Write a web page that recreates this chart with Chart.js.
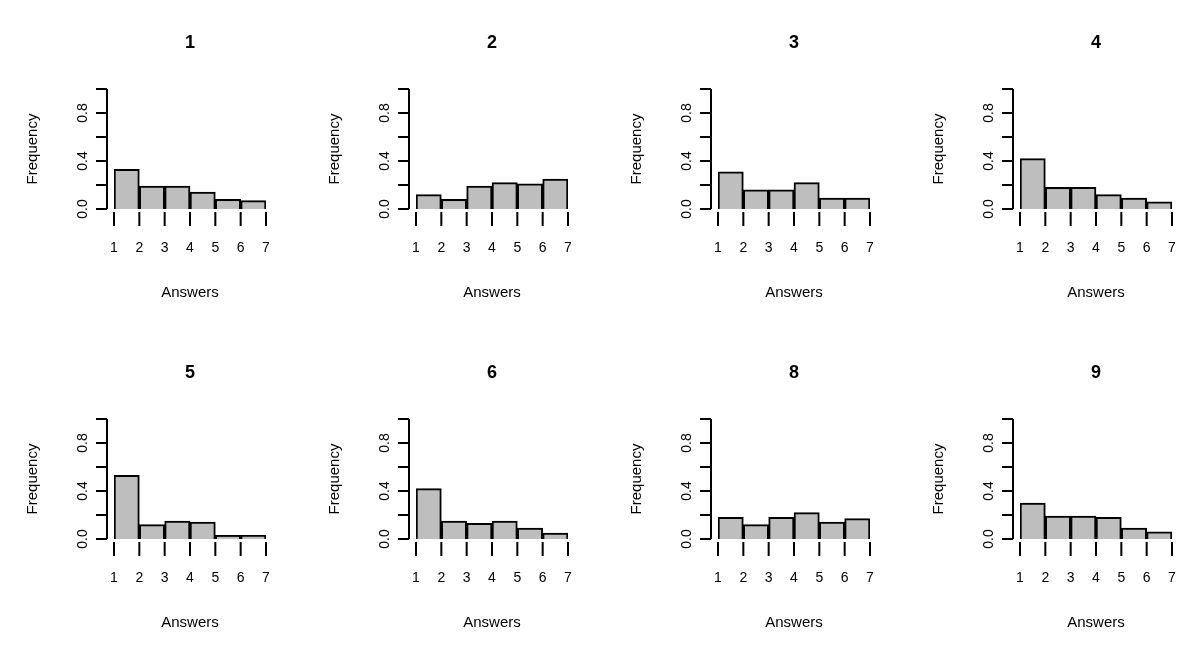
<!DOCTYPE html>
<html>
<head>
<meta charset="utf-8">
<script src="https://cdn.jsdelivr.net/npm/chart.js@4"></script>
<style>
body { margin: 0; background: #fff; }
#wrap { position: relative; width: 1200px; height: 662px; }
.panel { position: absolute; width: 302px; height: 331px; }
</style>
</head>
<body>
<div id="wrap"></div>
<script>
// Titulos de cada histograma y frecuencias relativas (6 clases entre 1 y 7)
const titulos = ['1', '2', '3', '4', '5', '6', '8', '9'];
const centros = [1.5, 2.5, 3.5, 4.5, 5.5, 6.5];
const frecuencias = [
    [0.33, 0.19, 0.19, 0.14, 0.08, 0.07],
    [0.12, 0.08, 0.19, 0.22, 0.21, 0.25],
    [0.31, 0.16, 0.16, 0.22, 0.09, 0.09],
    [0.42, 0.18, 0.18, 0.12, 0.09, 0.06],
    [0.53, 0.12, 0.15, 0.14, 0.03, 0.03],
    [0.42, 0.15, 0.13, 0.15, 0.09, 0.05],
    [0.18, 0.12, 0.18, 0.22, 0.14, 0.17],
    [0.30, 0.19, 0.19, 0.18, 0.09, 0.06]
];
const ticksX = [1, 2, 3, 4, 5, 6, 7];
const ticksY = [0, 0.2, 0.4, 0.6, 0.8, 1.0];
const etiquetasY = { 0: '0.0', 0.4: '0.4', 0.8: '0.8' };

// Ejes al estilo R dibujados con las escalas del grafico
const ejesR = {
    id: 'ejesR',
    afterDraw(chart) {
        const c = chart.ctx, x = chart.scales.x, y = chart.scales.y;
        const t = chart.options.plugins.ejesR.titulo;
        c.save();
        c.strokeStyle = '#000';
        c.lineWidth = 2;
        c.fillStyle = '#000';
        // eje y
        const ax = x.getPixelForValue(1) - 7;
        c.beginPath();
        c.moveTo(ax, y.getPixelForValue(0));
        c.lineTo(ax, y.getPixelForValue(1));
        ticksY.forEach(v => {
            c.moveTo(ax, y.getPixelForValue(v));
            c.lineTo(ax - 11, y.getPixelForValue(v));
        });
        c.stroke();
        c.font = '14px Arial, "Liberation Sans", sans-serif';
        c.textAlign = 'center';
        c.textBaseline = 'middle';
        Object.keys(etiquetasY).forEach(k => {
            c.save();
            c.translate(ax - 24, y.getPixelForValue(+k));
            c.rotate(-Math.PI / 2);
            c.fillText(etiquetasY[k], 0, 0);
            c.restore();
        });
        // eje x
        const ay = y.getPixelForValue(0) + 3;
        c.beginPath();
        ticksX.forEach(v => {
            c.moveTo(x.getPixelForValue(v), ay);
            c.lineTo(x.getPixelForValue(v), ay + 14);
        });
        c.stroke();
        ticksX.forEach(v => c.fillText(String(v), x.getPixelForValue(v), ay + 36));
        // textos
        c.font = '15px Arial, "Liberation Sans", sans-serif';
        c.fillText('Answers', (x.left + x.right) / 2, 293);
        c.save();
        c.translate(33, (y.top + y.bottom) / 2);
        c.rotate(-Math.PI / 2);
        c.fillText('Frequency', 0, 0);
        c.restore();
        c.font = 'bold 18px Arial, "Liberation Sans", sans-serif';
        c.fillText(t, (x.left + x.right) / 2, 43);
        c.restore();
    }
};

const wrap = document.getElementById('wrap');
titulos.forEach((titulo, i) => {
    const div = document.createElement('div');
    div.className = 'panel';
    div.style.left = (i % 4) * 302 + 'px';
    div.style.top = Math.floor(i / 4) * 330 + 'px';
    const cv = document.createElement('canvas');
    cv.width = 302; cv.height = 331;
    cv.style.width = '302px'; cv.style.height = '331px';
    div.appendChild(cv);
    wrap.appendChild(div);
    new Chart(cv.getContext('2d'), {
        type: 'bar',
        data: {
            datasets: [{
                data: centros.map((x, j) => ({ x: x, y: frecuencias[i][j] })),
                backgroundColor: '#bebebe',
                borderColor: '#000',
                borderWidth: 2,
                barPercentage: 1,
                categoryPercentage: 1
            }]
        },
        options: {
            responsive: false,
            animation: false,
            layout: { padding: { top: 89, right: 36, left: 0, bottom: 0 } },
            plugins: {
                legend: { display: false },
                tooltip: { enabled: false },
                ejesR: { titulo: titulo }
            },
            scales: {
                x: {
                    type: 'linear', min: 1, max: 7, offset: false,
                    grid: { display: false }, border: { display: false },
                    ticks: { display: false },
                    afterFit: s => { s.height = 122; }
                },
                y: {
                    min: 0, max: 1,
                    grid: { display: false }, border: { display: false },
                    ticks: { display: false },
                    afterFit: s => { s.width = 114; }
                }
            }
        },
        plugins: [ejesR]
    });
});
</script>
</body>
</html>
